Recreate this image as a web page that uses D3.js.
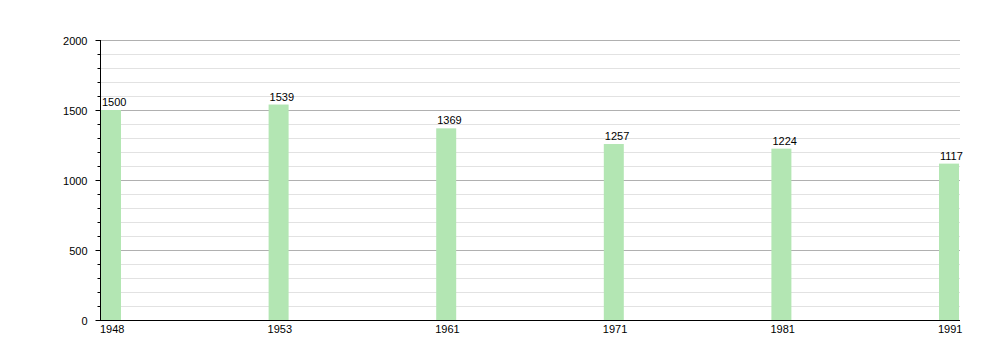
<!DOCTYPE html>
<html><head><meta charset="utf-8">
<script src="https://cdn.jsdelivr.net/npm/d3@7"></script>
<style>body{margin:0;background:#fff}svg{display:block}text{font-family:"Liberation Sans",Arial,sans-serif;font-size:11px;fill:#000}</style>
</head><body><svg id="c" width="1000" height="360"></svg>
<script>
const years = ["1948","1953","1961","1971","1981","1991"];
const population = [1500,1539,1369,1257,1224,1117];
const yTicks = [0,500,1000,1500,2000];

const svg = d3.select("#c");
const L = 100, R = 960, T = 40, B = 320, barW = 20;
const y = d3.scaleLinear().domain([0,2000]).range([B,T]);
const x = d3.scalePoint().domain(years).range([L+1, R-barW-1]);

// minor grid
svg.append("g").selectAll("line").data(d3.range(100,2001,100).filter(v=>v%500))
 .join("line").attr("x1",L).attr("x2",R).attr("y1",d=>y(d)+0.5).attr("y2",d=>y(d)+0.5)
 .attr("stroke","#e2e2e2");
// major grid
svg.append("g").selectAll("line").data(yTicks.filter(v=>v>0))
 .join("line").attr("x1",L).attr("x2",R).attr("y1",d=>y(d)+0.5).attr("y2",d=>y(d)+0.5)
 .attr("stroke","#b0b0b0");

// bars
svg.append("g").selectAll("rect").data(years).join("rect")
 .attr("x",d=>x(d)).attr("width",barW)
 .attr("y",(d,i)=>y(population[i])).attr("height",(d,i)=>B-y(population[i]))
 .attr("fill","#b3e6b3");
// value labels
svg.append("g").selectAll("text").data(years).join("text")
 .attr("x",d=>x(d)+1).attr("y",(d,i)=>y(population[i])-4)
 .text((d,i)=>population[i]);

// y axis
const ya = svg.append("g").attr("transform",`translate(${L+0.5},0)`).attr("color","#000");
ya.call(d3.axisLeft(y).tickValues(yTicks).tickSize(5).tickPadding(8).tickFormat(d3.format("d")));
ya.selectAll(".domain").remove();
ya.append("line").attr("y1",T).attr("y2",B+0.5).attr("stroke","#000");
ya.selectAll(".tick text").attr("font-size",null).attr("font-family",null).attr("fill","#000").attr("dy","0.4em");
ya.append("g").selectAll("line").data(d3.range(100,2001,100).filter(v=>v%500))
 .join("line").attr("x1",-3).attr("x2",0).attr("y1",d=>y(d)+0.5).attr("y2",d=>y(d)+0.5).attr("stroke","#000");
ya.attr("font-size",null).attr("font-family",null);

// x axis
svg.append("line").attr("x1",L).attr("x2",R).attr("y1",B+0.5).attr("y2",B+0.5).attr("stroke","#000");
svg.append("g").selectAll("text").data(years).join("text")
 .attr("x",d=>x(d)-1).attr("y",B+13).text(d=>d);
</script></body></html>
